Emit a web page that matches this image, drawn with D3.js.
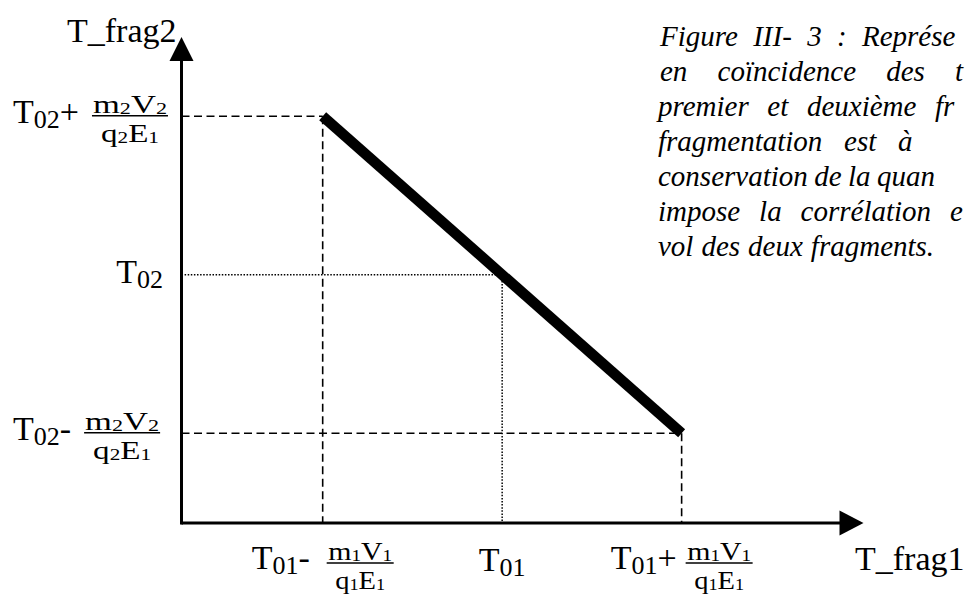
<!DOCTYPE html>
<html><head><meta charset="utf-8">
<script src="https://cdn.jsdelivr.net/npm/d3@7"></script>
<style>html,body{margin:0;padding:0;background:#fff;overflow:hidden}</style>
</head><body><svg id="c" width="965" height="597"></svg>
<script>
// ---- data (schematic values) ----
const T01 = 2.68, DT1 = 1.5;     // centre and half-width on T_frag1
const T02 = 2.35, DT2 = 1.5;     // centre and half-width on T_frag2
const xDomain = [0, 5.7];
const yDomain = [0, 4.6];
const corrX = [T01 - DT1, T01 + DT1];
const corrY = [T02 + DT2, T02 - DT2];
const xTickValues = [T01 - DT1, T01, T01 + DT1];
const yTickValues = [T02 + DT2, T02, T02 - DT2];
const guideStyles = ["dashed", "dotted", "dashed"];
const xTickLabels = [
  {main: "T", sub: "01", op: "-", num: ["m","1","V","1"], den: ["q","1","E","1"]},
  {main: "T", sub: "01", op: "", num: null, den: null},
  {main: "T", sub: "01", op: "+", num: ["m","1","V","1"], den: ["q","1","E","1"]}
];
const yTickLabels = [
  {main: "T", sub: "02", op: "+", num: ["m","2","V","2"], den: ["q","2","E","1"]},
  {main: "T", sub: "02", op: "", num: null, den: null},
  {main: "T", sub: "02", op: "-", num: ["m","2","V","2"], den: ["q","2","E","1"]}
];
const axisTitles = ["T_frag1", "T_frag2"];
const captionLines = [
  ["Figure", "III-", "3", ":", "Représe"],
  ["en", "coïncidence", "des", "t"],
  ["premier", "et", "deuxième", "fr"],
  ["fragmentation", "est", "à"],
  ["conservation", "de", "la", "quan"],
  ["impose", "la", "corrélation", "e"],
  ["vol", "des", "deux", "fragments."]
];

// ---- drawing ----
const svg = d3.select("#c");
const FONT = "'Liberation Serif','Times New Roman',serif";
const x = d3.scaleLinear().domain(xDomain).range([181.5, 863.5]);
const y = d3.scaleLinear().domain(yDomain).range([523, 37]);

svg.append("rect").attr("width", 965).attr("height", 597).attr("fill", "#fff");

const dash = {dashed: "8,4.5", dotted: "1.5,1.6"};
const gGuides = svg.append("g");
xTickValues.forEach((xv, i) => {
  const yv = yTickValues[i];
  const st = guideStyles[i];
  gGuides.append("line")
    .attr("x1", x(0)).attr("x2", x(xv)).attr("y1", y(yv)).attr("y2", y(yv))
    .attr("stroke", "#000").attr("stroke-width", st === "dotted" ? 1.5 : 1.6)
    .attr("stroke-dasharray", dash[st]);
  gGuides.append("line")
    .attr("x1", x(xv)).attr("x2", x(xv)).attr("y1", y(yv)).attr("y2", y(0))
    .attr("stroke", "#000").attr("stroke-width", st === "dotted" ? 1.5 : 1.6)
    .attr("stroke-dasharray", dash[st]);
});

// axes
const ax = svg.append("g");
const x0 = x(0), y0 = y(0), xEnd = x(xDomain[1]), yEnd = y(yDomain[1]);
ax.append("line").attr("x1", x0).attr("x2", xEnd - 20).attr("y1", y0).attr("y2", y0)
  .attr("stroke", "#000").attr("stroke-width", 3);
ax.append("line").attr("x1", x0).attr("x2", x0).attr("y1", y0 + 1.5).attr("y2", yEnd + 20)
  .attr("stroke", "#000").attr("stroke-width", 3);
ax.append("path").attr("d", `M${xEnd},${y0} L${xEnd - 24},${y0 - 12.5} L${xEnd - 24},${y0 + 12.5} Z`).attr("fill", "#000");
ax.append("path").attr("d", `M${x0},${yEnd} L${x0 - 12},${yEnd + 24} L${x0 + 12},${yEnd + 24} Z`).attr("fill", "#000");

// correlation line
svg.append("line")
  .attr("x1", x(corrX[0])).attr("y1", y(corrY[0]))
  .attr("x2", x(corrX[1])).attr("y2", y(corrY[1]))
  .attr("stroke", "#000").attr("stroke-width", 10.5).attr("stroke-linecap", "butt");

// label helpers
const MAIN = 34, SUB = 26, FR = 25, FRSUB = 16;
function mainLabel(g, lx, ly, d, anchor) {
  const t = g.append("text").attr("x", lx).attr("y", ly)
    .style("font-family", FONT).attr("font-size", MAIN).attr("text-anchor", anchor || "start");
  t.append("tspan").text(d.main);
  t.append("tspan").attr("font-size", SUB).attr("dy", 5).text(d.sub);
  if (d.op) t.append("tspan").attr("dy", -5).text(d.op);
  return t;
}
function fracPart(g, cx, by, parts, width) {
  const t = g.append("text").style("font-family", FONT).attr("font-size", FR)
    .attr("text-anchor", "middle");
  parts.forEach((p, i) => {
    const sp = t.append("tspan").text(p);
    if (i % 2 === 1) sp.attr("font-size", FRSUB).attr("dy", 1);
    else if (i > 0) sp.attr("dy", -1);
  });
  const w = t.node().getComputedTextLength();
  t.attr("transform", `translate(${cx},${by}) scale(${width / w},1)`);
}
function fraction(g, left, barY, barW, numW, denW, d) {
  const cx = left + barW / 2;
  g.append("line").attr("x1", left).attr("x2", left + barW).attr("y1", barY).attr("y2", barY)
    .attr("stroke", "#000").attr("stroke-width", 1.4);
  fracPart(g, cx, barY - 3, d.num, numW);
  fracPart(g, cx, barY + 26, d.den, denW);
}

// y tick labels
const gy = svg.append("g");
yTickLabels.forEach((d, i) => {
  const py = y(yTickValues[i]);
  if (d.num) {
    const t = mainLabel(gy, 13, py + 7, d);
    const w = t.node().getComputedTextLength();
    const left = 13 + w + 13;
    fraction(gy, left, py - 0.5, 76, 74, 58, d);
  } else {
    mainLabel(gy, 163, py + 8, d, "end");
  }
});

// x tick labels
const gx = svg.append("g");
xTickLabels.forEach((d, i) => {
  const px = x(xTickValues[i]);
  const ly = y0 + 46;
  if (d.num) {
    mainLabel(gx, px - 71, ly, d);
    fraction(gx, px + 4, ly - 6, 67, 64, 50, d);
  } else {
    mainLabel(gx, px, ly + 2, d, "middle");
  }
});

// axis titles
svg.append("text").attr("x", 855).attr("y", 570).style("font-family", FONT)
  .attr("font-size", MAIN).text(axisTitles[0]);
svg.append("text").attr("x", 67).attr("y", 42).style("font-family", FONT)
  .attr("font-size", MAIN).text(axisTitles[1]);

// caption: justified lines (first word start, last visible word start), cut by the page edge
const captionStart = [660, 660, 658, 658, 658, 658, 658];
const captionLast = [862, 955, 935, 898, 877, 950, null];
const gc = svg.append("g");
captionLines.forEach((words, li) => {
  const nodes = words.map(w => gc.append("text")
    .attr("y", 46 + li * 35)
    .style("font-family", FONT).style("font-style", "italic").style("font-size", "29px")
    .text(w));
  const widths = nodes.map(n => n.node().getComputedTextLength());
  let gap = 8;
  if (captionLast[li] !== null) {
    const used = widths.slice(0, -1).reduce((a, b) => a + b, 0);
    gap = (captionLast[li] - captionStart[li] - used) / (words.length - 1);
  }
  let cx = captionStart[li];
  nodes.forEach((n, i) => {
    n.attr("x", (i === nodes.length - 1 && captionLast[li] !== null) ? captionLast[li] : cx);
    cx += widths[i] + gap;
  });
});
</script>
</body></html>
